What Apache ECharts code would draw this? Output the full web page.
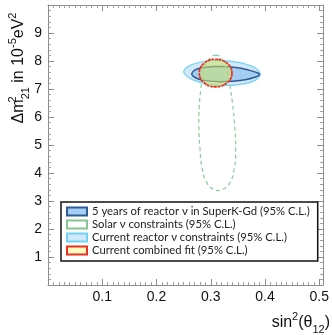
<!DOCTYPE html>
<html>
<head>
<meta charset="utf-8">
<script src="https://cdn.jsdelivr.net/npm/echarts@6/dist/echarts.min.js"></script>
<style>
  html, body { margin: 0; padding: 0; background: #fff; }
  #chart { width: 332px; height: 335px; }
</style>
</head>
<body>
<div id="chart"></div>
<script>
// tick labels
const xTicks = [0.1, 0.2, 0.3, 0.4, 0.5];
const yTicks = [1, 2, 3, 4, 5, 6, 7, 8, 9];

const names = [
    '5 years of reactor ν in SuperK-Gd (95% C.L.)',
    'Solar ν constraints (95% C.L.)',
    'Current reactor ν constraints (95% C.L.)',
    'Current combined fit (95% C.L.)'
];

// contours, [sin2(theta12), dm2_21 in 1e-5 eV2]
const reactorNow = [
    [0.391, 7.52], [0.386, 7.70], [0.371, 7.85], [0.348, 7.96], [0.321, 8.01], [0.294, 8.00],
    [0.271, 7.91], [0.256, 7.78], [0.250, 7.62], [0.256, 7.45], [0.271, 7.30], [0.294, 7.18],
    [0.321, 7.13], [0.348, 7.15], [0.371, 7.23], [0.386, 7.36]
];
const superKGd = [
    [0.265, 7.55], [0.271, 7.68], [0.284, 7.76], [0.303, 7.80], [0.324, 7.80], [0.346, 7.77],
    [0.366, 7.70], [0.381, 7.61], [0.390, 7.52], [0.381, 7.42], [0.363, 7.33], [0.341, 7.28],
    [0.317, 7.26], [0.293, 7.29], [0.277, 7.36], [0.268, 7.45]
];
const solar = [
    [0.309, 8.21], [0.318, 8.14], [0.324, 7.93], [0.330, 7.61], [0.335, 7.14], [0.340, 6.50],
    [0.344, 5.71], [0.346, 4.82], [0.343, 4.11], [0.334, 3.61], [0.321, 3.41], [0.308, 3.39],
    [0.293, 3.64], [0.284, 4.18], [0.280, 4.89], [0.278, 5.71], [0.279, 6.43], [0.282, 7.04],
    [0.286, 7.54], [0.293, 7.96], [0.301, 8.14]
];
const combined = [
    [0.339, 7.57], [0.337, 7.76], [0.330, 7.92], [0.320, 8.03], [0.309, 8.06], [0.297, 8.03],
    [0.288, 7.92], [0.281, 7.76], [0.279, 7.57], [0.281, 7.38], [0.288, 7.22], [0.297, 7.11],
    [0.309, 7.08], [0.320, 7.11], [0.330, 7.22], [0.337, 7.38]
];

const chart = echarts.init(document.getElementById('chart'), null, { renderer: 'canvas' });

const frame = '#8c8c8c';

function contour(name, pts, itemStyle, makeShapes) {
    return {
        name: name,
        type: 'custom',
        coordinateSystem: 'cartesian2d',
        data: pts,
        clip: false,
        itemStyle: itemStyle,
        renderItem: function (params, api) {
            if (params.dataIndex !== 0) return null;
            const points = pts.map(function (p) { return api.coord(p); });
            return { type: 'group', children: makeShapes(points) };
        }
    };
}

function axisBase(pos, isX) {
    return {
        type: 'value',
        position: pos,
        min: 0,
        max: isX ? 0.507 : 10,
        interval: isX ? 0.1 : 1,
        axisLine: { show: true, onZero: false, lineStyle: { color: frame, width: 1 } },
        axisTick: { show: true, inside: true, length: 6, lineStyle: { color: frame } },
        minorTick: { show: true, splitNumber: isX ? 10 : 5, length: 3, lineStyle: { color: '#a0a0a0' } },
        splitLine: { show: false },
        axisLabel: { show: false }
    };
}

const labelStyle = { fontSize: 14, color: '#111', fontFamily: 'Liberation Sans' };

const xBottom = axisBase('bottom', true);
xBottom.axisLabel = Object.assign({
    show: true, margin: 5, showMinLabel: false, showMaxLabel: false,
    formatter: function (v) {
        const hit = xTicks.find(function (t) { return Math.abs(t - v) < 1e-6; });
        return hit === undefined ? '' : String(hit);
    }
}, labelStyle);

const yLeft = axisBase('left', false);
yLeft.axisLabel = Object.assign({
    show: true, margin: 6, showMinLabel: false, showMaxLabel: false,
    formatter: function (v) { return yTicks.indexOf(v) >= 0 ? String(v) : ''; }
}, labelStyle);

const titleRich = {
    m: { fontSize: 16, fontFamily: 'Liberation Sans', fill: '#111', lineHeight: 24 },
    sp: { fontSize: 11, fontFamily: 'Liberation Sans', fill: '#111', verticalAlign: 'top', lineHeight: 11 },
    sp0: { fontSize: 11, fontFamily: 'Liberation Sans', fill: '#111', verticalAlign: 'top', lineHeight: 11, width: 0.1 },
    sb: { fontSize: 11, fontFamily: 'Liberation Sans', fill: '#111', verticalAlign: 'bottom', lineHeight: 11 }
};

chart.setOption({
    animation: false,
    backgroundColor: '#fff',
    grid: { left: 48, right: 7, top: 5, bottom: 50 },
    xAxis: [xBottom, axisBase('top', true)],
    yAxis: [yLeft, axisBase('right', false)],
    legend: {
        orient: 'vertical',
        left: 61,
        top: 202,
        data: names,
        icon: 'rect',
        itemWidth: 20,
        itemHeight: 8,
        itemGap: 2,
        padding: [4, 8, 5, 5],
        selectedMode: false,
        backgroundColor: '#fff',
        borderColor: '#111',
        borderWidth: 1.5,
        textStyle: { fontFamily: 'Lato', fontSize: 11.3, color: '#222' }
    },
    graphic: [
        {
            type: 'text',
            x: 19,
            y: 68,
            rotation: Math.PI / 2,
            style: {
                text: '{m|Δm}{sp0|2}{sb|21}{m| in 10}{sp|-5}{m|eV}{sp|2}',
                align: 'center',
                verticalAlign: 'middle',
                rich: titleRich
            }
        },
        {
            type: 'text',
            x: 330,
            y: 323,
            style: {
                text: '{m|sin}{sp|2}{m|(θ}{sb|12}{m|)}',
                align: 'right',
                verticalAlign: 'middle',
                rich: titleRich
            }
        }
    ],
    series: [
        contour(names[2], reactorNow,
            { color: '#d2e7f9', borderColor: '#6fd3f6', borderWidth: 1.2 },
            function (points) {
                return [{ type: 'polygon', shape: { points: points, smooth: 0.45 },
                    style: { fill: '#d2e7f9', stroke: '#6fd3f6', lineWidth: 1.2 } }];
            }),
        contour(names[0], superKGd,
            { color: '#a3cdf2', borderColor: '#2f5c92', borderWidth: 1.5 },
            function (points) {
                return [{ type: 'polygon', shape: { points: points, smooth: 0.45 },
                    style: { fill: '#a3cdf2', stroke: '#2f5c92', lineWidth: 1.5 } }];
            }),
        contour(names[1], solar,
            { color: '#fff', borderColor: '#86c592', borderWidth: 1.2, borderType: [3, 2] },
            function (points) {
                return [{ type: 'polygon', shape: { points: points, smooth: 0.45 },
                    style: { fill: 'none', stroke: '#8ccb98', lineWidth: 1.2, lineDash: [4, 3] } }];
            }),
        contour(names[3], combined,
            { color: '#fffac2', borderColor: '#e8321f', borderWidth: 1.5, borderType: [2, 2] },
            function (points) {
                return [
                    { type: 'polygon', shape: { points: points, smooth: 0.45 },
                        style: { fill: 'rgba(205,228,100,0.55)' } },
                    { type: 'polygon', shape: { points: points, smooth: 0.45 },
                        style: { fill: 'none', stroke: '#e8321f', lineWidth: 1.8, lineDash: [1.5, 2.2], lineCap: 'round' } }
                ];
            })
    ]
});
</script>
</body>
</html>
